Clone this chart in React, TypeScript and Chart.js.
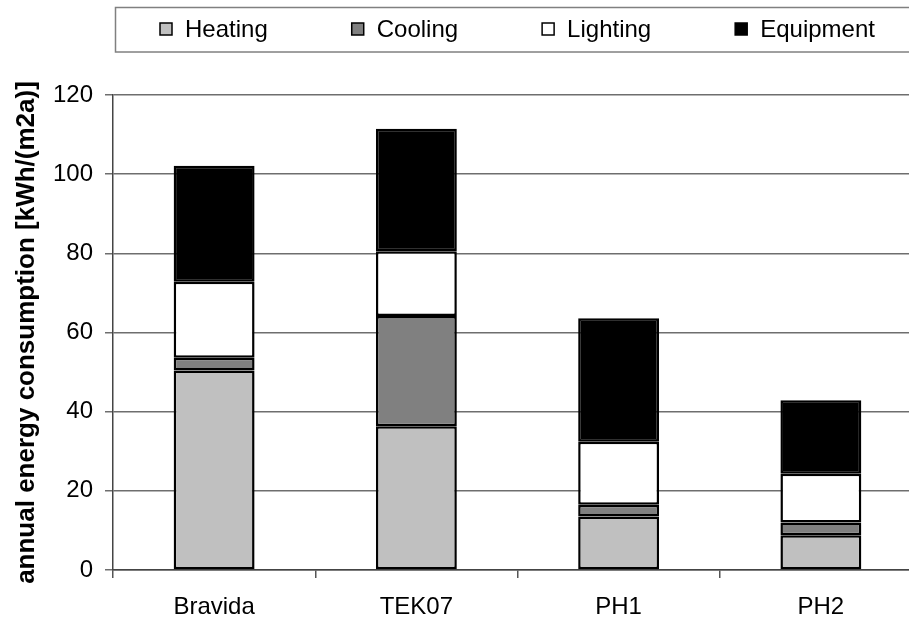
import React, { useEffect, useRef } from "react";
import { Chart, registerables } from "chart.js";

Chart.register(...registerables);

const FONT = "'Liberation Sans', Arial, Helvetica, sans-serif";

const categories = ["Bravida", "TEK07", "PH1", "PH2"];
const heating = [50.4, 36.3, 13.5, 8.8];
const cooling = [3.2, 27.9, 3.0, 3.2];
const lighting = [19.2, 16.3, 15.9, 12.3];
const equipment = [29.3, 31.0, 31.2, 18.6];
const seriesNames = ["Heating", "Cooling", "Lighting", "Equipment"];
const seriesColors = ["#c0c0c0", "#808080", "#ffffff", "#000000"];
const yMin = 0;
const yMax = 120;
const yStep = 20;
const yTitle = "annual energy consumption [kWh/(m2a)]";

const boxLegend = {
  id: "boxLegend",
  afterDraw(chart: any) {
    const ctx = chart.ctx;
    ctx.save();
    ctx.strokeStyle = "#808080";
    ctx.lineWidth = 1.5;
    ctx.strokeRect(115.5, 7.5, chart.width, 44.5);
    ctx.font = `24px ${FONT}`;
    ctx.textBaseline = "alphabetic";
    ctx.textAlign = "left";
    let x = 160;
    chart.data.datasets.forEach((ds: any) => {
      ctx.fillStyle = ds.backgroundColor;
      ctx.fillRect(x, 23, 12, 12);
      ctx.strokeStyle = "#000";
      ctx.lineWidth = 1.5;
      ctx.strokeRect(x, 23, 12, 12);
      ctx.fillStyle = "#000";
      ctx.fillText(ds.label, x + 25, 37);
      x += 25 + ctx.measureText(ds.label).width + 84;
    });
    ctx.restore();
  },
};

export default function App() {
  const ref = useRef<HTMLCanvasElement>(null);
  useEffect(() => {
    if (!ref.current) return;
    const values = [heating, cooling, lighting, equipment];
    const chart = new Chart(ref.current, {
      type: "bar",
      data: {
        labels: categories,
        datasets: seriesNames.map((name, i) => ({
          label: name,
          data: values[i],
          backgroundColor: seriesColors[i],
          borderColor: "#000000",
          borderWidth: 2.5,
          borderSkipped: false,
          categoryPercentage: 1,
          barPercentage: 0.4,
        })),
      },
      options: {
        responsive: false,
        animation: false,
        devicePixelRatio: 1,
        layout: { padding: { top: 95, left: 0, right: 0, bottom: 0 } },
        plugins: {
          legend: { display: false },
          tooltip: { enabled: false },
        },
        scales: {
          x: {
            stacked: true,
            grid: {
              drawOnChartArea: false,
              drawTicks: true,
              tickLength: 8,
              color: "#555555",
              lineWidth: 1.5,
            },
            border: { color: "#444444", width: 1.5 },
            ticks: {
              color: "#000",
              padding: 15,
              font: { family: FONT, size: 24 },
            },
            afterFit: (scale: any) => {
              scale.height = 55;
            },
          },
          y: {
            stacked: true,
            min: yMin,
            max: yMax,
            ticks: {
              stepSize: yStep,
              color: "#000",
              padding: 12,
              font: { family: FONT, size: 24 },
            },
            grid: {
              color: "#6e6e6e",
              lineWidth: 1.5,
              tickLength: 8,
            },
            border: { color: "#444444", width: 1.5 },
            title: {
              display: true,
              text: yTitle,
              color: "#000",
              font: { family: FONT, size: 26, weight: "bold" },
              padding: { top: 11, bottom: 12 },
            },
            afterFit: (scale: any) => {
              scale.width = 113;
            },
          },
        },
      },
      plugins: [boxLegend],
    });
    return () => chart.destroy();
  }, []);
  return (
    <div
      style={{
        position: "fixed",
        left: 0,
        top: 0,
        width: 909,
        height: 618,
        overflow: "hidden",
        background: "#fff",
      }}
    >
      <canvas ref={ref} width={922} height={625} style={{ display: "block" }} />
    </div>
  );
}
